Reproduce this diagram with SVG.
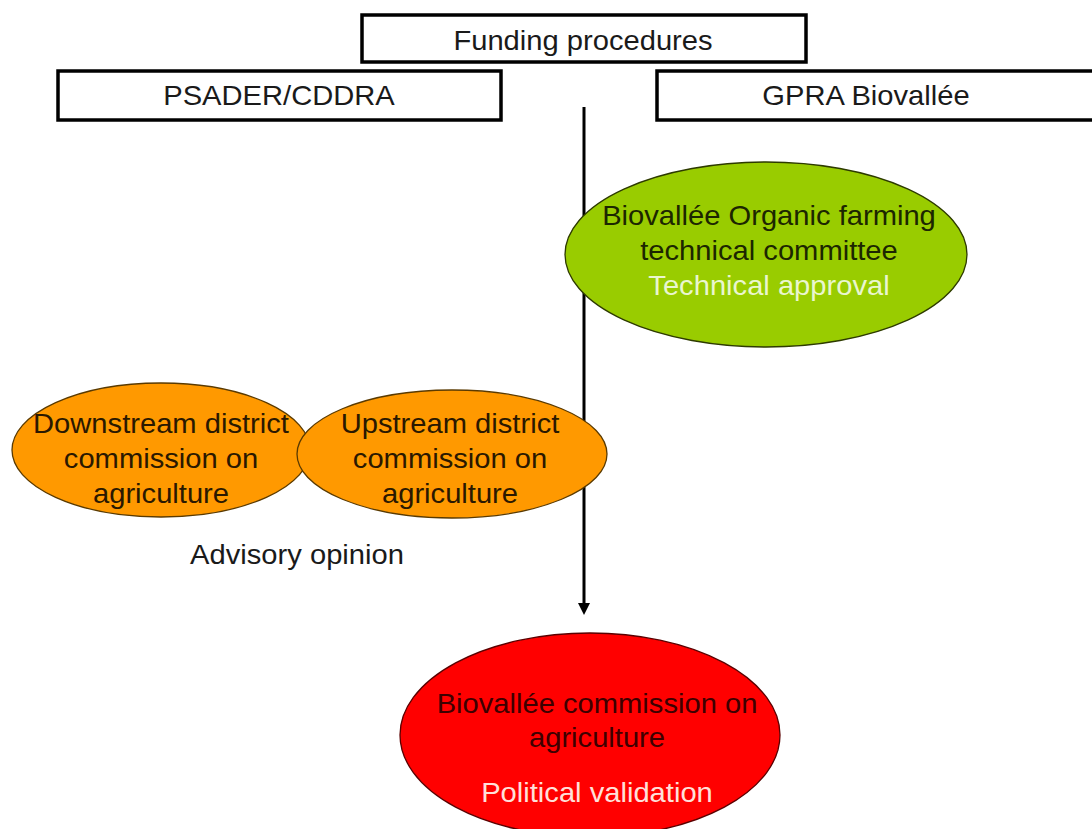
<svg xmlns="http://www.w3.org/2000/svg" width="1092" height="829" viewBox="0 0 1092 829">
<style>
.box{fill:#fff;stroke:#000;stroke-width:3.5}
.t{font-family:"Liberation Sans",Arial,sans-serif;font-size:27.5px;text-anchor:middle}
.dark{fill:#1a1a1a}
.ell{stroke-width:1.3}
.og{fill:#2a1800}
.gr{fill:#1c2600}
.rd{fill:#3d0000}
</style>
<defs>
<marker id="ah" markerWidth="12" markerHeight="12" refX="0" refY="5.5" orient="auto" markerUnits="userSpaceOnUse" viewBox="0 0 11 11">
<path d="M0,0 L11,5.5 L0,11 z" fill="#000"/>
</marker>
</defs>
<rect width="1092" height="829" fill="#fff"/>
<g id="connectors">
<line x1="584" y1="107" x2="584" y2="603" stroke="#000" stroke-width="3" marker-end="url(#ah)"/>
</g>
<g id="funding">
<rect class="box" x="362" y="15" width="444" height="47"/>
<text class="t dark" transform="translate(583,50) scale(1.06,1)">Funding procedures</text>
</g>
<g id="psader">
<rect class="box" x="58" y="71" width="443" height="49"/>
<text class="t dark" transform="translate(279,105) scale(1.06,1)">PSADER/CDDRA</text>
</g>
<g id="gpra">
<rect class="box" x="657" y="71" width="450" height="49"/>
<text class="t dark" transform="translate(866,105) scale(1.06,1)">GPRA Biovallée</text>
</g>
<g id="technical">
<ellipse class="ell" cx="766" cy="254.5" rx="201" ry="92.5" fill="#99CC00" stroke="#2d3a00"/>
<text class="t gr" transform="translate(769,225) scale(1.06,1)">Biovallée Organic farming</text>
<text class="t gr" transform="translate(769,260) scale(1.06,1)">technical committee</text>
<text class="t" fill="#EAF6CF" transform="translate(769,295) scale(1.06,1)">Technical approval</text>
</g>
<g id="downstream">
<ellipse class="ell" cx="161" cy="450" rx="149" ry="67" fill="#FF9900" stroke="#5a3a00"/>
<text class="t og" transform="translate(161,433) scale(1.06,1)">Downstream district</text>
<text class="t og" transform="translate(161,468) scale(1.06,1)">commission on</text>
<text class="t og" transform="translate(161,503) scale(1.06,1)">agriculture</text>
</g>
<g id="upstream">
<ellipse class="ell" cx="452" cy="454" rx="155" ry="64" fill="#FF9900" stroke="#5a3a00"/>
<text class="t og" transform="translate(450,433) scale(1.06,1)">Upstream district</text>
<text class="t og" transform="translate(450,468) scale(1.06,1)">commission on</text>
<text class="t og" transform="translate(450,503) scale(1.06,1)">agriculture</text>
</g>
<g id="advisory">
<text class="t dark" transform="translate(297,564) scale(1.06,1)">Advisory opinion</text>
</g>
<g id="commission">
<ellipse class="ell" cx="590" cy="735" rx="190" ry="102" fill="#FF0000" stroke="#5a0000"/>
<text class="t rd" transform="translate(597,713) scale(1.06,1)">Biovallée commission on</text>
<text class="t rd" transform="translate(597,747) scale(1.06,1)">agriculture</text>
<text class="t" fill="#FFE0DA" transform="translate(597,802) scale(1.06,1)">Political validation</text>
</g>
</svg>
